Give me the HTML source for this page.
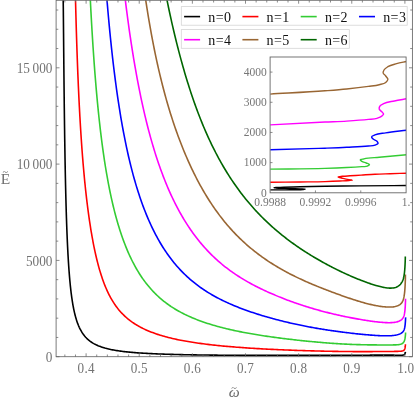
<!DOCTYPE html>
<html lang="en"><head><meta charset="utf-8"><title>E vs omega</title>
<style>
html,body{margin:0;padding:0;background:#fff;}
body{width:415px;height:402px;overflow:hidden;}
svg{display:block;filter:opacity(1);}
text{font-family:"Liberation Serif","DejaVu Serif",serif;}
.tk{font-size:15px;fill:#727272;}
.itk{font-size:13.2px;fill:#767676;}
.lg{font-size:14px;fill:#111;letter-spacing:0.4px;}
.fr{stroke:#666;stroke-width:0.85;fill:none;}
.fi{stroke:#666;stroke-width:0.9;fill:none;}
.t{stroke:#666;stroke-width:0.75;fill:none;}
.c{fill:none;stroke-width:1.6;stroke-linejoin:round;stroke-linecap:butt;}
</style></head><body>
<svg width="415" height="402" viewBox="0 0 415 402">
<rect x="0" y="0" width="415" height="402" fill="#fff"/>
<defs><clipPath id="cm"><rect x="56.10" y="0.30" width="356.30" height="356.40"/></clipPath>
<clipPath id="ci"><rect x="270.10" y="57.00" width="136.00" height="135.80"/></clipPath></defs>
<g clip-path="url(#cm)">
<path class="c" stroke="#000000" d="M62.76 -30.01L63.20 -0.01L63.21 0.88L63.23 1.87L63.24 2.95L63.26 4.13L63.27 5.40L63.29 6.76L63.31 8.21L63.32 9.75L63.34 11.38L63.36 13.09L63.37 14.89L63.39 16.77L63.41 18.72L63.43 20.76L63.45 22.87L63.47 25.05L63.49 27.31L63.51 29.64L63.53 32.03L63.56 34.49L63.58 37.01L63.60 39.60L63.63 42.24L63.65 44.94L63.68 47.70L63.70 50.51L63.73 53.37L63.76 56.27L63.78 59.23L63.81 62.22L63.84 65.26L63.87 68.34L63.90 71.45L63.93 74.60L63.97 77.78L64.00 80.99L64.03 84.23L64.07 87.50L64.10 90.79L64.14 94.10L64.18 97.43L64.22 100.78L64.25 104.14L64.29 107.51L64.34 110.90L64.38 114.30L64.42 117.70L64.47 121.11L64.51 124.52L64.56 127.94L64.61 131.35L64.65 134.76L64.70 138.17L64.76 141.58L64.81 144.97L64.86 148.36L64.92 151.74L64.97 155.10L65.03 158.46L65.09 161.80L65.15 165.12L65.22 168.42L65.28 171.71L65.34 174.98L65.41 178.22L65.48 181.45L65.55 184.65L65.62 187.82L65.70 190.97L65.77 194.10L65.85 197.19L65.93 200.26L66.01 203.30L66.10 206.31L66.18 209.28L66.27 212.23L66.36 215.14L66.45 218.02L66.55 220.87L66.64 223.69L66.74 226.46L66.84 229.21L66.95 231.92L67.05 234.59L67.16 237.23L67.27 239.83L67.39 242.40L67.51 244.92L67.63 247.42L67.75 249.87L67.88 252.29L68.00 254.66L68.14 257.01L68.27 259.31L68.41 261.58L68.55 263.80L68.70 266.00L68.85 268.15L69.00 270.27L69.16 272.35L69.32 274.39L69.48 276.39L69.65 278.36L69.82 280.29L70.00 282.19L70.18 284.04L70.36 285.87L70.55 287.65L70.74 289.40L70.94 291.12L71.14 292.80L71.35 294.44L71.57 296.05L71.78 297.63L72.01 299.17L72.23 300.68L72.47 302.16L72.71 303.60L72.95 305.02L73.20 306.40L73.46 307.75L73.72 309.07L73.99 310.36L74.26 311.61L74.54 312.84L74.83 314.04L75.13 315.22L75.43 316.36L75.74 317.48L76.05 318.56L76.37 319.63L76.70 320.66L77.04 321.67L77.39 322.66L77.74 323.62L78.10 324.55L78.47 325.47L78.85 326.35L79.23 327.22L79.63 328.06L80.03 328.89L80.45 329.68L80.87 330.46L81.30 331.22L81.74 331.96L82.19 332.68L82.66 333.37L83.13 334.05L83.61 334.71L84.10 335.36L84.61 335.98L85.65 337.18L86.73 338.31L87.86 339.38L89.04 340.38L90.28 341.34L91.56 342.23L92.90 343.08L94.29 343.87L95.01 344.25L95.74 344.62L96.49 344.98L97.26 345.33L98.03 345.67L98.83 346.00L99.64 346.31L100.46 346.62L101.30 346.92L102.16 347.21L103.03 347.49L103.92 347.76L104.83 348.03L105.76 348.28L106.70 348.53L107.66 348.77L108.63 349.00L109.63 349.23L110.64 349.45L111.67 349.66L112.72 349.87L113.79 350.06L114.88 350.26L115.98 350.44L117.11 350.62L118.25 350.80L119.42 350.97L120.60 351.13L121.80 351.29L123.02 351.44L124.26 351.59L125.53 351.74L126.81 351.87L128.11 352.01L129.43 352.14L130.77 352.27L132.13 352.39L133.52 352.50L134.92 352.62L136.34 352.73L137.79 352.84L139.25 352.94L140.73 353.04L142.24 353.14L143.76 353.23L145.30 353.32L146.87 353.41L148.45 353.49L150.05 353.57L151.68 353.65L153.32 353.73L154.98 353.80L156.66 353.87L158.36 353.94L160.08 354.01L161.82 354.07L163.57 354.13L165.35 354.19L167.14 354.25L168.95 354.31L170.77 354.36L172.61 354.41L174.47 354.46L176.35 354.51L178.24 354.56L180.15 354.60L182.07 354.65L184.00 354.69L185.95 354.73L187.92 354.77L189.89 354.80L191.88 354.84L193.89 354.87L195.90 354.90L197.92 354.94L199.96 354.97L202.01 354.99L204.06 355.02L206.13 355.05L208.20 355.07L210.28 355.10L212.37 355.12L214.46 355.14L216.56 355.16L218.67 355.18L220.78 355.20L222.89 355.22L225.01 355.23L227.13 355.25L229.26 355.26L231.38 355.28L233.51 355.29L235.64 355.30L237.76 355.31L239.89 355.33L242.01 355.34L244.13 355.34L246.25 355.35L248.37 355.36L250.48 355.37L252.58 355.37L254.68 355.38L256.78 355.39L258.87 355.39L260.95 355.39L263.02 355.40L265.08 355.40L267.14 355.41L269.18 355.41L271.22 355.41L273.24 355.41L275.25 355.41L277.25 355.41L279.24 355.42L281.22 355.42L283.18 355.42L285.13 355.42L287.07 355.41L288.99 355.41L290.89 355.41L292.78 355.41L294.66 355.41L296.51 355.41L298.36 355.41L300.18 355.40L301.99 355.40L303.78 355.40L305.55 355.40L307.30 355.39L309.04 355.39L310.76 355.39L312.46 355.39L314.14 355.38L315.80 355.38L317.44 355.38L319.06 355.37L320.66 355.37L322.24 355.36L323.81 355.36L325.35 355.36L326.87 355.35L328.37 355.35L329.85 355.34L331.32 355.34L332.76 355.33L334.18 355.33L335.58 355.33L336.96 355.32L338.32 355.32L339.66 355.31L340.98 355.31L342.28 355.30L343.56 355.30L344.82 355.29L346.06 355.29L347.29 355.28L348.49 355.28L349.67 355.27L350.83 355.27L351.97 355.26L353.10 355.26L354.20 355.25L355.29 355.25L356.35 355.24L357.40 355.24L358.43 355.23L359.44 355.23L360.44 355.22L361.41 355.22L362.37 355.21L363.31 355.21L364.24 355.20L365.14 355.20L366.03 355.19L366.90 355.19L367.76 355.18L368.60 355.18L369.42 355.18L370.23 355.17L371.80 355.16L373.31 355.16L374.76 355.15L376.15 355.14L377.49 355.14L378.77 355.13L380.00 355.13L381.18 355.12L382.31 355.12L383.40 355.12L384.43 355.12L385.43 355.12L386.38 355.12L387.29 355.12L388.16 355.12L389.00 355.13L389.80 355.13L390.93 355.14L391.99 355.15L392.98 355.16L393.90 355.17L394.76 355.18L395.57 355.19L396.55 355.20L397.45 355.21L398.27 355.22L399.20 355.22L400.01 355.22L400.88 355.21L401.74 355.18L402.56 355.13L403.39 355.00L404.15 354.72L404.75 354.18L405.10 353.46L405.33 352.57L405.45 351.80"/>
<path class="c" stroke="#ff0000" d="M74.62 -34.48L75.40 -4.48L75.59 3.16L75.78 10.60L75.98 17.84L76.18 24.88L76.38 31.74L76.59 38.42L76.80 44.93L77.01 51.28L77.23 57.47L77.45 63.50L77.67 69.39L77.90 75.14L78.14 80.76L78.37 86.24L78.62 91.60L78.86 96.84L79.11 101.97L79.37 106.98L79.63 111.88L79.89 116.67L80.16 121.37L80.43 125.97L80.71 130.48L80.99 134.89L81.28 139.22L81.57 143.46L81.86 147.63L82.17 151.71L82.47 155.72L82.79 159.65L83.10 163.51L83.43 167.30L83.76 171.02L84.09 174.68L84.43 178.28L84.77 181.81L85.13 185.29L85.48 188.71L85.85 192.07L86.22 195.37L86.59 198.63L86.97 201.83L87.36 204.98L87.75 208.08L88.16 211.14L88.56 214.14L88.98 217.11L89.40 220.02L89.83 222.90L90.26 225.73L90.70 228.51L91.15 231.26L91.61 233.96L92.07 236.62L92.54 239.23L93.02 241.80L93.50 244.33L94.00 246.81L94.50 249.24L95.01 251.63L95.53 253.98L96.05 256.28L96.58 258.54L97.13 260.75L97.68 262.92L98.23 265.04L98.80 267.12L99.38 269.16L99.96 271.15L100.55 273.10L101.16 275.01L101.77 276.87L102.39 278.70L103.02 280.48L103.65 282.22L104.30 283.93L104.96 285.59L105.63 287.21L106.30 288.80L106.99 290.35L107.69 291.86L108.39 293.33L109.11 294.77L109.83 296.17L110.57 297.54L111.32 298.87L112.07 300.17L112.84 301.44L113.62 302.67L114.41 303.87L115.21 305.04L116.02 306.18L116.84 307.29L117.67 308.37L118.51 309.43L119.36 310.45L120.23 311.45L121.10 312.42L121.99 313.37L122.89 314.29L123.80 315.19L124.72 316.07L125.65 316.93L126.59 317.76L127.54 318.57L128.51 319.36L129.49 320.13L130.48 320.89L131.48 321.62L132.49 322.34L133.51 323.03L134.55 323.72L135.59 324.38L136.65 325.03L137.72 325.66L138.80 326.28L139.90 326.88L141.00 327.47L142.12 328.04L143.25 328.60L144.39 329.14L145.54 329.68L146.70 330.20L147.87 330.71L149.06 331.20L150.26 331.69L151.47 332.16L152.69 332.62L153.92 333.08L155.16 333.52L156.41 333.95L157.68 334.37L158.95 334.78L160.24 335.18L161.53 335.58L162.84 335.96L164.16 336.34L165.49 336.70L166.83 337.06L168.18 337.41L169.53 337.76L170.90 338.09L172.28 338.42L173.67 338.74L175.07 339.05L176.48 339.36L177.89 339.66L179.32 339.95L180.75 340.23L182.20 340.51L183.65 340.79L185.11 341.05L186.58 341.31L188.06 341.57L189.54 341.82L191.03 342.06L192.53 342.30L194.04 342.53L195.55 342.76L197.07 342.98L198.60 343.20L200.13 343.41L201.67 343.62L203.21 343.82L204.77 344.02L206.32 344.22L207.88 344.41L209.45 344.59L211.02 344.77L212.59 344.95L214.17 345.12L215.75 345.29L217.34 345.46L218.93 345.62L220.52 345.78L222.11 345.93L223.71 346.08L225.31 346.23L226.91 346.38L228.51 346.52L230.12 346.66L231.72 346.79L233.33 346.92L234.93 347.05L236.54 347.18L238.14 347.30L239.75 347.42L241.35 347.54L242.96 347.66L244.56 347.77L246.16 347.88L247.76 347.99L249.36 348.09L250.95 348.19L252.54 348.29L254.13 348.39L255.72 348.49L257.30 348.58L258.88 348.67L260.45 348.76L262.02 348.85L263.59 348.94L265.15 349.02L266.71 349.10L268.26 349.18L269.80 349.26L271.34 349.33L272.87 349.41L274.40 349.48L275.92 349.55L277.44 349.62L278.94 349.69L280.44 349.75L281.93 349.82L283.42 349.88L284.89 349.94L286.36 350.00L287.82 350.06L289.28 350.12L290.72 350.17L292.15 350.22L293.58 350.28L295.00 350.33L296.41 350.38L297.80 350.43L299.19 350.47L300.57 350.52L301.94 350.56L303.30 350.61L304.65 350.65L305.99 350.69L307.32 350.73L308.64 350.77L309.94 350.81L311.24 350.84L312.53 350.88L313.80 350.91L315.07 350.95L316.32 350.98L317.56 351.01L318.79 351.04L320.01 351.07L321.22 351.10L322.42 351.13L323.61 351.16L324.78 351.18L325.94 351.21L327.09 351.23L328.23 351.25L329.36 351.27L330.48 351.30L331.58 351.32L332.68 351.34L333.76 351.36L334.83 351.37L335.89 351.39L336.94 351.41L337.97 351.42L338.99 351.44L340.01 351.45L341.01 351.46L342.00 351.48L342.97 351.49L343.94 351.50L344.89 351.51L345.84 351.52L346.77 351.53L347.69 351.54L348.60 351.55L349.50 351.55L350.38 351.56L351.26 351.57L352.12 351.57L352.98 351.58L353.82 351.58L354.65 351.59L355.47 351.59L356.28 351.59L357.08 351.60L358.65 351.60L360.17 351.61L361.65 351.61L363.10 351.61L364.50 351.61L365.86 351.61L367.19 351.60L368.47 351.60L369.72 351.59L370.94 351.59L372.12 351.58L373.26 351.57L374.37 351.57L375.44 351.56L376.48 351.55L377.50 351.54L378.47 351.54L379.42 351.53L380.34 351.52L381.23 351.51L382.10 351.51L382.93 351.50L383.74 351.50L384.90 351.49L386.01 351.48L387.07 351.47L388.07 351.47L389.02 351.46L389.93 351.46L390.79 351.45L391.61 351.45L392.64 351.44L393.59 351.43L394.49 351.42L395.32 351.41L396.29 351.39L397.17 351.38L397.97 351.35L398.85 351.32L399.76 351.27L400.56 351.21L401.36 351.12L402.21 350.98L403.04 350.75L403.76 350.38L404.32 349.80L404.70 349.07L404.96 348.24L405.13 347.38L405.26 346.46L405.36 345.52L405.43 344.63L405.45 344.20"/>
<path class="c" stroke="#33cc33" d="M88.71 -30.68L90.30 -0.68L90.63 5.79L90.97 12.14L91.31 18.36L91.66 24.46L92.01 30.45L92.37 36.33L92.73 42.09L93.10 47.75L93.48 53.29L93.86 58.74L94.24 64.08L94.63 69.32L95.03 74.47L95.44 79.52L95.85 84.48L96.26 89.34L96.69 94.12L97.12 98.81L97.55 103.41L97.99 107.93L98.44 112.37L98.90 116.72L99.36 121.00L99.83 125.20L100.30 129.33L100.79 133.38L101.28 137.36L101.77 141.27L102.28 145.10L102.79 148.87L103.31 152.58L103.83 156.21L104.36 159.79L104.91 163.30L105.45 166.75L106.01 170.13L106.57 173.46L107.15 176.73L107.73 179.95L108.31 183.10L108.91 186.21L109.51 189.26L110.12 192.25L110.74 195.20L111.37 198.09L112.01 200.93L112.66 203.73L113.31 206.48L113.97 209.18L114.65 211.83L115.33 214.44L116.01 217.00L116.71 219.52L117.42 222.00L118.14 224.44L118.86 226.83L119.60 229.18L120.34 231.50L121.09 233.77L121.85 236.01L122.63 238.20L123.41 240.37L124.20 242.49L125.00 244.58L125.81 246.63L126.63 248.64L127.45 250.62L128.29 252.56L129.14 254.47L130.00 256.34L130.87 258.18L131.74 259.98L132.63 261.75L133.53 263.49L134.44 265.19L135.35 266.86L136.28 268.50L137.22 270.11L138.17 271.69L139.12 273.23L140.09 274.75L141.07 276.24L142.05 277.69L143.05 279.12L144.06 280.52L145.08 281.89L146.10 283.23L147.14 284.54L148.19 285.83L149.25 287.09L150.31 288.33L151.39 289.54L152.48 290.72L153.57 291.88L154.68 293.02L155.80 294.13L156.92 295.21L158.06 296.28L159.21 297.32L160.36 298.34L161.53 299.33L162.70 300.31L163.88 301.26L165.07 302.19L166.28 303.11L167.49 304.00L168.71 304.87L169.94 305.72L171.17 306.56L172.42 307.37L173.68 308.17L174.94 308.95L176.21 309.71L177.49 310.46L178.78 311.19L180.08 311.90L181.38 312.60L182.69 313.29L184.01 313.96L185.34 314.61L186.68 315.25L188.02 315.88L189.37 316.49L190.73 317.09L192.09 317.68L193.46 318.26L194.84 318.82L196.22 319.37L197.61 319.91L199.00 320.44L200.40 320.96L201.81 321.47L203.22 321.97L204.64 322.45L206.06 322.93L207.49 323.40L208.92 323.86L210.35 324.30L211.79 324.74L213.24 325.17L214.69 325.59L216.14 326.01L217.59 326.41L219.05 326.81L220.51 327.20L221.97 327.58L223.44 327.95L224.91 328.32L226.38 328.68L227.85 329.03L229.33 329.37L230.80 329.71L232.28 330.04L233.76 330.37L235.23 330.68L236.71 331.00L238.19 331.30L239.67 331.60L241.15 331.90L242.63 332.19L244.11 332.47L245.58 332.75L247.06 333.02L248.53 333.29L250.01 333.55L251.48 333.81L252.95 334.06L254.41 334.31L255.88 334.56L257.34 334.80L258.80 335.03L260.26 335.26L261.71 335.49L263.16 335.71L264.60 335.93L266.04 336.14L267.48 336.35L268.91 336.56L270.34 336.76L271.76 336.96L273.18 337.16L274.60 337.35L276.00 337.54L277.41 337.73L278.80 337.91L280.19 338.09L281.58 338.27L282.96 338.44L284.33 338.61L285.69 338.78L287.05 338.95L288.40 339.11L289.75 339.27L291.09 339.42L292.42 339.58L293.74 339.73L295.05 339.88L296.36 340.02L297.66 340.17L298.95 340.31L300.23 340.44L301.51 340.58L302.77 340.71L304.03 340.84L305.28 340.97L306.52 341.09L307.75 341.22L308.97 341.34L310.19 341.45L311.39 341.57L312.59 341.68L313.77 341.79L314.95 341.90L316.12 342.01L317.28 342.11L318.42 342.21L319.56 342.31L320.69 342.41L321.81 342.50L322.92 342.59L324.02 342.68L325.11 342.77L326.19 342.86L327.26 342.94L328.32 343.02L329.37 343.10L330.41 343.18L331.44 343.25L332.46 343.33L333.47 343.40L334.47 343.47L335.46 343.53L336.44 343.60L337.41 343.66L338.37 343.72L339.32 343.78L340.26 343.83L341.19 343.89L342.11 343.94L343.02 343.99L343.92 344.04L344.81 344.08L345.70 344.13L346.57 344.17L347.43 344.21L348.28 344.25L349.12 344.29L349.95 344.33L350.77 344.36L351.59 344.39L352.39 344.43L353.96 344.49L355.50 344.54L357.01 344.59L358.47 344.63L359.90 344.67L361.29 344.71L362.65 344.74L363.97 344.77L365.26 344.79L366.51 344.82L367.73 344.84L368.92 344.85L370.08 344.87L371.20 344.88L372.30 344.89L373.36 344.90L374.39 344.91L375.40 344.92L376.37 344.92L377.32 344.93L378.24 344.93L379.14 344.94L380.01 344.94L380.85 344.95L381.67 344.95L382.85 344.96L383.98 344.97L385.06 344.97L386.09 344.97L387.07 344.98L388.01 344.98L388.91 344.98L389.76 344.97L390.57 344.97L391.60 344.96L392.56 344.94L393.47 344.92L394.31 344.90L395.11 344.87L396.03 344.83L396.87 344.77L397.80 344.69L398.64 344.60L399.52 344.46L400.40 344.27L401.17 344.03L401.92 343.71L402.63 343.28L403.23 342.75L403.73 342.11L404.15 341.36L404.48 340.56L404.72 339.73L404.91 338.92L405.08 338.00L405.21 337.13L405.30 336.33L405.39 335.45L405.48 334.50L405.54 333.68L405.55 332.50"/>
<path class="c" stroke="#0000ff" d="M104.40 -29.73L107.00 0.27L107.48 5.92L107.96 11.47L108.45 16.95L108.94 22.34L109.44 27.64L109.95 32.87L110.46 38.01L110.99 43.07L111.51 48.06L112.05 52.97L112.59 57.80L113.14 62.56L113.70 67.24L114.26 71.85L114.84 76.39L115.41 80.85L116.00 85.25L116.59 89.58L117.19 93.83L117.80 98.03L118.42 102.15L119.04 106.21L119.68 110.21L120.31 114.14L120.96 118.01L121.62 121.82L122.28 125.57L122.95 129.26L123.63 132.89L124.32 136.46L125.01 139.97L125.72 143.43L126.43 146.83L127.15 150.18L127.88 153.47L128.61 156.71L129.36 159.90L130.11 163.04L130.88 166.13L131.65 169.16L132.43 172.15L133.21 175.09L134.01 177.98L134.82 180.83L135.63 183.63L136.45 186.38L137.28 189.09L138.12 191.75L138.97 194.37L139.83 196.95L140.70 199.49L141.57 201.98L142.46 204.43L143.35 206.85L144.25 209.22L145.16 211.56L146.08 213.85L147.01 216.11L147.95 218.33L148.89 220.52L149.85 222.67L150.81 224.78L151.78 226.86L152.77 228.90L153.76 230.90L154.76 232.88L155.76 234.81L156.78 236.72L157.81 238.59L158.84 240.43L159.88 242.23L160.93 244.00L161.99 245.75L163.06 247.46L164.14 249.14L165.22 250.78L166.32 252.40L167.42 253.99L168.53 255.55L169.64 257.08L170.77 258.58L171.90 260.06L173.05 261.50L174.20 262.92L175.35 264.31L176.52 265.68L177.69 267.02L178.87 268.33L180.06 269.62L181.26 270.88L182.46 272.12L183.67 273.34L184.89 274.53L186.11 275.69L187.34 276.84L188.58 277.96L189.82 279.06L191.07 280.13L192.33 281.19L193.59 282.22L194.86 283.23L196.13 284.23L197.41 285.20L198.70 286.15L199.99 287.08L201.29 288.00L202.59 288.89L203.90 289.77L205.21 290.64L206.53 291.48L207.85 292.31L209.18 293.12L210.51 293.92L211.84 294.70L213.18 295.47L214.52 296.22L215.87 296.96L217.22 297.68L218.57 298.39L219.92 299.09L221.28 299.78L222.64 300.45L224.01 301.11L225.37 301.76L226.74 302.40L228.11 303.02L229.48 303.64L230.86 304.24L232.23 304.83L233.61 305.42L234.99 305.99L236.36 306.55L237.74 307.10L239.12 307.65L240.50 308.18L241.88 308.71L243.26 309.22L244.64 309.73L246.02 310.23L247.40 310.72L248.77 311.21L250.15 311.68L251.52 312.15L252.90 312.61L254.27 313.06L255.64 313.51L257.01 313.95L258.37 314.38L259.73 314.81L261.10 315.22L262.45 315.64L263.81 316.04L265.16 316.44L266.51 316.83L267.85 317.22L269.20 317.60L270.53 317.98L271.87 318.35L273.20 318.71L274.52 319.07L275.84 319.42L277.16 319.76L278.47 320.10L279.78 320.44L281.08 320.77L282.37 321.09L283.66 321.41L284.95 321.72L286.23 322.03L287.50 322.33L288.77 322.63L290.03 322.92L291.29 323.20L292.54 323.49L293.78 323.76L295.02 324.03L296.24 324.30L297.47 324.56L298.68 324.82L299.89 325.07L301.09 325.32L302.29 325.57L303.47 325.81L304.65 326.04L305.82 326.27L306.99 326.50L308.14 326.72L309.29 326.94L310.43 327.15L311.57 327.36L312.69 327.57L313.81 327.77L314.91 327.96L316.01 328.16L317.11 328.34L318.19 328.53L319.27 328.71L320.33 328.89L321.39 329.06L322.44 329.23L323.48 329.40L324.51 329.56L325.54 329.72L326.55 329.88L327.56 330.04L328.55 330.19L329.54 330.33L330.52 330.48L331.49 330.62L332.46 330.76L333.41 330.90L334.35 331.03L335.29 331.16L336.22 331.29L337.14 331.41L338.04 331.54L338.94 331.66L339.84 331.78L340.72 331.89L341.59 332.00L342.46 332.11L343.31 332.22L344.16 332.33L345.00 332.43L345.83 332.54L346.65 332.64L347.46 332.73L348.27 332.83L349.85 333.01L351.39 333.19L352.91 333.36L354.39 333.53L355.83 333.68L357.25 333.83L358.63 333.97L359.97 334.11L361.29 334.24L362.57 334.37L363.82 334.49L365.05 334.60L366.24 334.71L367.40 334.81L368.53 334.91L369.64 335.00L370.71 335.08L371.76 335.17L372.78 335.24L373.78 335.31L374.74 335.38L375.69 335.44L376.60 335.50L377.49 335.55L378.36 335.60L379.21 335.64L380.03 335.68L381.21 335.73L382.35 335.76L383.44 335.79L384.49 335.81L385.49 335.82L386.45 335.82L387.37 335.82L388.24 335.80L389.08 335.77L389.88 335.74L390.90 335.69L391.85 335.62L392.75 335.53L393.60 335.44L394.58 335.31L395.50 335.16L396.34 334.99L397.27 334.78L398.11 334.54L398.88 334.29L399.69 333.98L400.51 333.61L401.23 333.21L401.94 332.73L402.55 332.20L403.13 331.54L403.57 330.86L403.96 330.08L404.26 329.29L404.49 328.50L404.70 327.63L404.85 326.79L405.00 325.86L405.11 325.01L405.21 324.09L405.28 323.28L405.35 322.42L405.42 321.50L405.48 320.50L405.53 319.44L405.57 318.58L405.58 317.69L405.55 317.40"/>
<path class="c" stroke="#ff00ff" d="M121.58 -29.28L125.40 0.72L126.00 5.53L126.61 10.29L127.22 15.00L127.84 19.65L128.47 24.24L129.10 28.78L129.74 33.27L130.39 37.70L131.05 42.07L131.71 46.39L132.38 50.66L133.06 54.88L133.74 59.04L134.43 63.15L135.13 67.20L135.84 71.21L136.55 75.16L137.27 79.06L138.00 82.91L138.73 86.71L139.48 90.45L140.23 94.15L140.99 97.80L141.75 101.40L142.52 104.95L143.30 108.45L144.09 111.90L144.89 115.31L145.69 118.67L146.50 121.98L147.32 125.25L148.14 128.47L148.98 131.64L149.82 134.77L150.67 137.85L151.52 140.89L152.39 143.89L153.26 146.84L154.14 149.75L155.02 152.62L155.92 155.45L156.82 158.23L157.73 160.97L158.65 163.68L159.57 166.34L160.50 168.96L161.44 171.55L162.39 174.09L163.34 176.60L164.30 179.06L165.27 181.50L166.25 183.89L167.23 186.25L168.22 188.57L169.22 190.85L170.22 193.10L171.24 195.32L172.26 197.50L173.28 199.64L174.31 201.76L175.35 203.84L176.40 205.88L177.45 207.90L178.52 209.88L179.58 211.83L180.66 213.75L181.74 215.64L182.82 217.50L183.91 219.33L185.01 221.12L186.12 222.89L187.23 224.63L188.35 226.34L189.47 228.03L190.60 229.68L191.73 231.31L192.88 232.91L194.02 234.48L195.17 236.03L196.33 237.55L197.49 239.04L198.66 240.51L199.83 241.95L201.01 243.37L202.19 244.77L203.38 246.14L204.57 247.48L205.77 248.81L206.97 250.10L208.17 251.38L209.38 252.63L210.59 253.87L211.81 255.08L213.03 256.26L214.25 257.43L215.48 258.57L216.71 259.70L217.95 260.80L219.18 261.89L220.42 262.95L221.66 263.99L222.91 265.02L224.16 266.02L225.41 267.01L226.66 267.98L227.91 268.93L229.17 269.87L230.43 270.78L231.69 271.69L232.95 272.57L234.21 273.44L235.48 274.30L236.74 275.14L238.00 275.96L239.27 276.77L240.54 277.57L241.80 278.35L243.07 279.12L244.34 279.88L245.61 280.63L246.87 281.36L248.14 282.08L249.41 282.79L250.67 283.49L251.94 284.17L253.20 284.85L254.46 285.51L255.72 286.17L256.98 286.81L258.24 287.44L259.50 288.07L260.75 288.68L262.00 289.29L263.25 289.88L264.50 290.47L265.75 291.05L266.99 291.62L268.23 292.18L269.47 292.73L270.70 293.27L271.93 293.81L273.16 294.34L274.38 294.86L275.60 295.38L276.82 295.88L278.03 296.38L279.24 296.88L280.45 297.36L281.65 297.84L282.84 298.31L284.03 298.78L285.22 299.23L286.40 299.68L287.58 300.13L288.75 300.56L289.92 300.99L291.08 301.42L292.24 301.84L293.39 302.25L294.54 302.65L295.68 303.05L296.81 303.44L297.94 303.83L299.07 304.21L300.18 304.58L301.30 304.95L302.40 305.31L303.50 305.67L304.59 306.02L305.68 306.37L306.76 306.71L307.83 307.04L308.90 307.37L309.96 307.69L311.02 308.01L312.06 308.32L313.10 308.63L314.14 308.93L315.16 309.23L316.18 309.52L317.19 309.81L318.20 310.09L319.20 310.36L320.19 310.64L321.17 310.90L322.15 311.16L323.12 311.42L324.08 311.67L325.03 311.92L325.98 312.16L326.92 312.40L327.85 312.64L328.77 312.87L329.69 313.10L330.60 313.32L331.50 313.54L332.40 313.75L333.28 313.96L334.16 314.17L335.03 314.37L335.90 314.57L336.75 314.77L337.60 314.96L338.44 315.15L339.28 315.33L340.10 315.51L340.92 315.69L341.73 315.87L342.54 316.04L343.33 316.21L344.12 316.37L345.67 316.70L347.20 317.01L348.69 317.31L350.16 317.59L351.59 317.87L353.00 318.14L354.37 318.40L355.72 318.64L357.04 318.88L358.33 319.11L359.59 319.33L360.82 319.54L362.03 319.74L363.21 319.94L364.36 320.13L365.49 320.30L366.59 320.48L367.67 320.64L368.72 320.80L369.74 320.94L370.74 321.09L371.72 321.22L372.67 321.35L373.60 321.47L374.51 321.59L375.39 321.70L376.26 321.80L377.10 321.90L377.92 321.99L379.11 322.11L380.25 322.22L381.35 322.32L382.41 322.41L383.43 322.48L384.40 322.54L385.34 322.59L386.24 322.63L387.11 322.66L387.94 322.68L388.99 322.69L389.99 322.68L390.93 322.65L391.82 322.61L392.66 322.55L393.46 322.48L394.39 322.36L395.26 322.23L396.06 322.07L396.96 321.86L397.77 321.63L398.64 321.32L399.42 320.98L400.22 320.56L400.93 320.12L401.63 319.58L402.24 318.99L402.77 318.33L403.24 317.58L403.60 316.81L403.89 316.05L404.14 315.20L404.34 314.38L404.52 313.46L404.65 312.63L404.78 311.71L404.88 310.91L404.97 310.06L405.05 309.14L405.13 308.15L405.20 307.09L405.26 306.24L405.31 305.34L405.35 304.39L405.40 303.39L405.44 302.33L405.49 301.20L405.50 299.81L405.50 298.80"/>
<path class="c" stroke="#996633" d="M140.83 -31.36L145.50 -1.36L146.21 3.30L146.92 7.89L147.64 12.40L148.37 16.83L149.10 21.18L149.84 25.47L150.59 29.69L151.34 33.83L152.10 37.91L152.86 41.93L153.64 45.88L154.41 49.77L155.20 53.59L155.99 57.36L156.79 61.07L157.60 64.72L158.41 68.32L159.23 71.86L160.05 75.34L160.88 78.78L161.72 82.16L162.56 85.49L163.41 88.77L164.27 92.01L165.14 95.20L166.01 98.34L166.88 101.44L167.76 104.49L168.65 107.50L169.55 110.47L170.45 113.39L171.36 116.28L172.27 119.12L173.19 121.93L174.12 124.70L175.05 127.43L175.99 130.12L176.94 132.78L177.89 135.41L178.85 138.00L179.81 140.55L180.78 143.07L181.75 145.56L182.73 148.02L183.72 150.45L184.71 152.85L185.71 155.21L186.71 157.55L187.72 159.86L188.73 162.13L189.75 164.38L190.78 166.60L191.81 168.79L192.84 170.94L193.88 173.08L194.93 175.18L195.98 177.25L197.03 179.30L198.09 181.31L199.16 183.30L200.22 185.26L201.30 187.20L202.38 189.10L203.46 190.98L204.54 192.84L205.63 194.67L206.73 196.47L207.83 198.24L208.93 199.99L210.04 201.71L211.15 203.41L212.26 205.08L213.38 206.73L214.50 208.36L215.62 209.96L216.75 211.53L217.88 213.08L219.01 214.61L220.14 216.11L221.28 217.59L222.42 219.05L223.57 220.49L224.71 221.90L225.86 223.29L227.01 224.66L228.16 226.00L229.31 227.33L230.47 228.63L231.63 229.91L232.79 231.18L233.95 232.42L235.11 233.64L236.27 234.84L237.44 236.02L238.60 237.18L239.77 238.32L240.93 239.44L242.10 240.54L243.27 241.63L244.44 242.70L245.60 243.75L246.77 244.78L247.94 245.80L249.11 246.80L250.28 247.79L251.44 248.75L252.61 249.71L253.78 250.64L254.94 251.57L256.11 252.47L257.27 253.37L258.43 254.24L259.59 255.11L260.75 255.96L261.91 256.80L263.07 257.62L264.22 258.43L265.37 259.23L266.53 260.01L267.67 260.79L268.82 261.55L269.96 262.30L271.11 263.03L272.25 263.76L273.38 264.47L274.52 265.17L275.65 265.86L276.77 266.54L277.90 267.21L279.02 267.87L280.14 268.52L281.25 269.16L282.36 269.79L283.47 270.41L284.57 271.01L285.67 271.61L286.77 272.20L287.86 272.78L288.95 273.36L290.03 273.92L291.11 274.47L292.19 275.02L293.26 275.56L294.32 276.09L295.38 276.61L296.44 277.12L297.49 277.63L298.54 278.13L299.58 278.62L300.61 279.10L301.65 279.58L302.67 280.05L303.69 280.51L304.71 280.97L305.72 281.42L306.72 281.87L307.72 282.30L308.72 282.74L309.70 283.16L310.69 283.58L311.66 284.00L312.63 284.41L313.60 284.81L314.56 285.21L315.51 285.60L316.46 285.99L317.40 286.37L318.33 286.75L319.26 287.12L320.19 287.49L321.10 287.85L322.01 288.21L322.92 288.57L323.81 288.92L324.71 289.26L325.59 289.60L326.47 289.94L327.34 290.28L328.21 290.61L329.07 290.93L329.92 291.25L330.77 291.57L331.61 291.89L332.44 292.20L333.27 292.51L334.09 292.81L334.90 293.11L335.71 293.41L336.51 293.70L337.30 293.99L338.09 294.28L338.87 294.56L339.65 294.84L340.41 295.12L341.18 295.39L342.68 295.92L344.16 296.44L345.61 296.95L347.03 297.44L348.43 297.92L349.80 298.38L351.15 298.83L352.47 299.27L353.77 299.69L355.04 300.10L356.29 300.50L357.51 300.88L358.70 301.25L359.88 301.60L361.02 301.94L362.15 302.27L363.25 302.58L364.33 302.88L365.38 303.16L366.42 303.43L367.43 303.69L368.41 303.94L369.38 304.18L370.32 304.40L371.25 304.61L372.15 304.82L373.03 305.01L373.90 305.19L374.74 305.36L375.56 305.52L376.36 305.67L377.15 305.81L378.29 306.01L379.39 306.19L380.46 306.35L381.48 306.49L382.47 306.62L383.42 306.72L384.33 306.82L385.22 306.89L386.06 306.96L386.88 307.01L387.92 307.05L388.91 307.07L389.85 307.07L390.74 307.05L391.59 307.01L392.39 306.95L393.33 306.84L394.22 306.71L395.04 306.55L395.96 306.33L396.81 306.07L397.59 305.78L398.42 305.41L399.17 305.01L399.86 304.57L400.56 304.02L401.19 303.41L401.75 302.72L402.26 301.96L402.65 301.21L403.01 300.37L403.29 299.59L403.54 298.73L403.74 297.95L403.92 297.11L404.09 296.21L404.25 295.23L404.37 294.40L404.48 293.51L404.59 292.57L404.69 291.57L404.78 290.51L404.85 289.68L404.92 288.80L404.98 287.88L405.04 286.92L405.09 285.92L405.15 284.87L405.20 283.77L405.25 282.62L405.28 281.82L405.31 281.00L405.34 280.15L405.37 279.28L405.40 278.38L405.40 276.39L405.40 274.40"/>
<path class="c" stroke="#006600" d="M160.73 -29.91L167.00 0.09L167.79 3.93L168.58 7.73L169.38 11.49L170.19 15.21L171.00 18.90L171.81 22.55L172.63 26.15L173.46 29.72L174.29 33.26L175.13 36.75L175.98 40.21L176.83 43.62L177.68 47.00L178.54 50.34L179.40 53.65L180.27 56.91L181.15 60.14L182.03 63.33L182.92 66.48L183.81 69.59L184.70 72.67L185.60 75.71L186.51 78.72L187.42 81.68L188.34 84.61L189.26 87.51L190.18 90.37L191.11 93.19L192.05 95.98L192.99 98.73L193.93 101.44L194.88 104.12L195.83 106.77L196.79 109.38L197.75 111.96L198.72 114.50L199.69 117.01L200.66 119.48L201.64 121.92L202.63 124.33L203.61 126.71L204.60 129.05L205.60 131.36L206.60 133.64L207.60 135.88L208.60 138.10L209.61 140.28L210.63 142.43L211.64 144.55L212.66 146.64L213.68 148.70L214.71 150.73L215.74 152.74L216.77 154.71L217.81 156.66L218.84 158.57L219.88 160.47L220.93 162.33L221.97 164.17L223.02 165.98L224.07 167.76L225.12 169.53L226.18 171.26L227.24 172.97L228.30 174.66L229.36 176.32L230.42 177.96L231.48 179.58L232.55 181.18L233.62 182.75L234.69 184.30L235.76 185.82L236.83 187.33L237.90 188.82L238.98 190.28L240.05 191.72L241.13 193.15L242.20 194.55L243.28 195.94L244.36 197.30L245.44 198.65L246.52 199.97L247.59 201.28L248.67 202.57L249.75 203.84L250.83 205.09L251.91 206.33L252.99 207.55L254.06 208.75L255.14 209.94L256.22 211.10L257.30 212.25L258.37 213.39L259.45 214.51L260.52 215.61L261.59 216.70L262.66 217.78L263.73 218.83L264.80 219.88L265.87 220.91L266.93 221.92L268.00 222.93L269.06 223.91L270.12 224.89L271.18 225.85L272.24 226.79L273.29 227.73L274.34 228.65L275.39 229.56L276.44 230.46L277.48 231.34L278.53 232.21L279.57 233.08L280.60 233.93L281.64 234.76L282.67 235.59L283.70 236.40L284.72 237.21L285.74 238.00L286.76 238.79L287.78 239.56L288.79 240.32L289.80 241.07L290.80 241.82L291.80 242.55L292.80 243.27L293.79 243.98L294.78 244.69L295.77 245.38L296.75 246.07L297.73 246.74L298.70 247.41L299.67 248.07L300.63 248.72L301.60 249.36L302.55 249.99L303.50 250.61L304.45 251.23L305.39 251.84L306.33 252.44L307.26 253.03L308.19 253.62L309.12 254.19L310.04 254.76L310.95 255.32L311.86 255.88L312.76 256.43L313.66 256.97L314.56 257.50L315.45 258.02L316.33 258.54L317.21 259.05L318.08 259.56L318.95 260.06L319.82 260.55L320.67 261.04L321.53 261.52L322.37 261.99L323.21 262.45L324.05 262.91L324.88 263.37L325.71 263.82L326.53 264.26L327.34 264.70L328.15 265.13L328.95 265.55L329.75 265.97L330.54 266.38L331.33 266.79L332.11 267.19L332.89 267.59L333.66 267.98L334.42 268.37L335.18 268.75L335.93 269.12L336.68 269.49L337.42 269.86L338.15 270.22L338.88 270.57L339.61 270.92L340.33 271.27L341.75 271.94L343.14 272.60L344.52 273.24L345.87 273.86L347.20 274.46L348.50 275.05L349.79 275.62L351.05 276.17L352.29 276.71L353.51 277.23L354.70 277.73L355.88 278.22L357.03 278.69L358.16 279.15L359.27 279.60L360.35 280.03L361.42 280.45L362.47 280.85L363.49 281.24L364.50 281.62L365.48 281.98L366.45 282.33L367.40 282.67L368.32 283.00L369.23 283.31L370.12 283.62L370.99 283.91L371.84 284.19L372.68 284.46L373.49 284.72L374.29 284.97L375.07 285.20L375.84 285.43L376.95 285.75L378.03 286.05L379.07 286.32L380.08 286.58L381.06 286.81L382.00 287.02L382.91 287.21L383.78 287.39L384.63 287.54L385.45 287.67L386.50 287.83L387.49 287.94L388.44 288.03L389.35 288.09L390.21 288.12L391.03 288.11L392.00 288.07L392.91 287.99L393.77 287.86L394.57 287.70L395.47 287.45L396.30 287.16L397.07 286.82L397.79 286.43L398.55 285.94L399.25 285.39L399.89 284.80L400.47 284.18L401.00 283.52L401.48 282.83L401.92 282.12L402.33 281.38L402.69 280.59L403.02 279.73L403.28 278.94L403.53 278.09L403.75 277.16L403.92 276.32L404.08 275.42L404.23 274.45L404.34 273.62L404.45 272.73L404.55 271.78L404.65 270.78L404.72 269.98L404.78 269.14L404.85 268.26L404.91 267.34L404.97 266.37L405.02 265.35L405.08 264.29L405.13 263.17L405.18 261.99L405.21 261.17L405.24 260.33L405.27 259.45L405.30 258.55L405.30 257.53L405.30 256.50"/>
</g>
<rect class="fr" x="56.10" y="0.30" width="356.30" height="356.40"/>
<path class="t" d="M64.85 356.70v-2.20M64.85 0.30v2.20M75.47 356.70v-2.20M75.47 0.30v2.20M86.10 356.70v-3.40M86.10 0.30v3.40M96.73 356.70v-2.20M96.73 0.30v2.20M107.35 356.70v-2.20M107.35 0.30v2.20M117.98 356.70v-2.20M117.98 0.30v2.20M128.61 356.70v-2.20M128.61 0.30v2.20M139.23 356.70v-3.40M139.23 0.30v3.40M149.86 356.70v-2.20M149.86 0.30v2.20M160.49 356.70v-2.20M160.49 0.30v2.20M171.11 356.70v-2.20M171.11 0.30v2.20M181.74 356.70v-2.20M181.74 0.30v2.20M192.37 356.70v-3.40M192.37 0.30v3.40M202.99 356.70v-2.20M202.99 0.30v2.20M213.62 356.70v-2.20M213.62 0.30v2.20M224.25 356.70v-2.20M224.25 0.30v2.20M234.87 356.70v-2.20M234.87 0.30v2.20M245.50 356.70v-3.40M245.50 0.30v3.40M256.13 356.70v-2.20M256.13 0.30v2.20M266.75 356.70v-2.20M266.75 0.30v2.20M277.38 356.70v-2.20M277.38 0.30v2.20M288.01 356.70v-2.20M288.01 0.30v2.20M298.63 356.70v-3.40M298.63 0.30v3.40M309.26 356.70v-2.20M309.26 0.30v2.20M319.89 356.70v-2.20M319.89 0.30v2.20M330.51 356.70v-2.20M330.51 0.30v2.20M341.14 356.70v-2.20M341.14 0.30v2.20M351.77 356.70v-3.40M351.77 0.30v3.40M362.39 356.70v-2.20M362.39 0.30v2.20M373.02 356.70v-2.20M373.02 0.30v2.20M383.65 356.70v-2.20M383.65 0.30v2.20M394.27 356.70v-2.20M394.27 0.30v2.20M404.90 356.70v-3.40M404.90 0.30v3.40M56.10 356.70h3.40M412.40 356.70h-3.40M56.10 337.44h2.20M412.40 337.44h-2.20M56.10 318.18h2.20M412.40 318.18h-2.20M56.10 298.92h2.20M412.40 298.92h-2.20M56.10 279.66h2.20M412.40 279.66h-2.20M56.10 260.40h3.40M412.40 260.40h-3.40M56.10 241.14h2.20M412.40 241.14h-2.20M56.10 221.88h2.20M412.40 221.88h-2.20M56.10 202.62h2.20M412.40 202.62h-2.20M56.10 183.36h2.20M412.40 183.36h-2.20M56.10 164.10h3.40M412.40 164.10h-3.40M56.10 144.84h2.20M412.40 144.84h-2.20M56.10 125.58h2.20M412.40 125.58h-2.20M56.10 106.32h2.20M412.40 106.32h-2.20M56.10 87.06h2.20M412.40 87.06h-2.20M56.10 67.80h3.40M412.40 67.80h-3.40M56.10 48.54h2.20M412.40 48.54h-2.20M56.10 29.28h2.20M412.40 29.28h-2.20M56.10 10.02h2.20M412.40 10.02h-2.20"/>
<text class="tk" transform="translate(86.20 373.30) scale(0.877 1)" text-anchor="middle" letter-spacing="0.3">0.4</text>
<text class="tk" transform="translate(139.33 373.30) scale(0.877 1)" text-anchor="middle" letter-spacing="0.3">0.5</text>
<text class="tk" transform="translate(192.47 373.30) scale(0.877 1)" text-anchor="middle" letter-spacing="0.3">0.6</text>
<text class="tk" transform="translate(245.60 373.30) scale(0.877 1)" text-anchor="middle" letter-spacing="0.3">0.7</text>
<text class="tk" transform="translate(298.73 373.30) scale(0.877 1)" text-anchor="middle" letter-spacing="0.3">0.8</text>
<text class="tk" transform="translate(351.87 373.30) scale(0.877 1)" text-anchor="middle" letter-spacing="0.3">0.9</text>
<text class="tk" transform="translate(405.80 373.30) scale(0.877 1)" text-anchor="middle" letter-spacing="0.3">1.0</text>
<text class="tk" transform="translate(52.40 361.90) scale(0.882 1)" text-anchor="end">0</text>
<text class="tk" transform="translate(52.40 265.60) scale(0.882 1)" text-anchor="end">5000</text>
<text class="tk" transform="translate(52.40 169.30) scale(0.882 1)" text-anchor="end">10 000</text>
<text class="tk" transform="translate(52.40 73.00) scale(0.882 1)" text-anchor="end">15 000</text>
<text x="5.5" y="184" font-size="15.5" fill="#707070" text-anchor="middle">E</text>
<text transform="translate(5.3 172.9) scale(0.86 0.62)" x="0" y="3.3" font-size="12" fill="#4a4a4a" text-anchor="middle">~</text>
<text x="234.2" y="396.6" font-size="15.5" font-style="italic" fill="#6a6a6a" text-anchor="middle">ω</text>
<text transform="translate(234.0 388.5) scale(0.86 0.62)" x="0" y="3.3" font-size="12" fill="#4a4a4a" text-anchor="middle">~</text>
<rect x="270.10" y="57.00" width="136.00" height="135.80" fill="#fff"/>
<g clip-path="url(#ci)">
<path class="c" style="stroke-width:1.4" stroke="#000000" d="M270.20 189.90C276.80 189.83 283.40 189.79 290.00 189.70C294.33 189.64 298.71 190.07 303.00 189.50C303.67 189.41 304.72 189.28 305.00 189.20C305.70 189.00 301.67 189.07 300.00 189.00C295.00 188.80 290.00 188.61 285.00 188.40C282.00 188.27 278.97 188.43 276.00 188.00C275.40 187.91 274.32 187.78 274.20 187.70C274.01 187.58 276.07 187.56 277.00 187.50C284.65 186.99 292.33 187.00 300.00 186.80C308.33 186.59 316.67 186.44 325.00 186.30C336.67 186.11 348.33 186.02 360.00 185.90C375.50 185.74 391.00 185.63 406.50 185.50"/>
<path class="c" style="stroke-width:1.4" stroke="#ff0000" d="M270.20 182.30C280.13 182.18 290.07 182.08 300.00 181.95C308.33 181.84 316.67 181.85 325.00 181.60C330.00 181.45 335.00 181.25 340.00 181.00C343.00 180.85 346.01 180.77 349.00 180.50C350.13 180.40 352.39 180.30 352.40 180.15C352.41 180.00 350.13 179.80 349.00 179.60C347.02 179.25 345.05 178.85 343.10 178.40C341.90 178.12 340.67 177.90 339.50 177.50C339.06 177.35 338.25 177.14 338.20 177.00C338.13 176.82 339.40 176.71 340.00 176.60C341.02 176.41 342.07 176.35 343.10 176.25C345.39 176.03 347.70 175.95 350.00 175.80C353.70 175.56 357.40 175.34 361.10 175.10C365.73 174.80 370.36 174.43 375.00 174.20C380.00 173.95 385.00 173.86 390.00 173.70C395.50 173.52 401.00 173.37 406.50 173.20"/>
<path class="c" style="stroke-width:1.4" stroke="#33cc33" d="M270.20 169.10C288.47 168.87 306.74 169.01 325.00 168.40C332.23 168.16 339.47 167.88 346.70 167.50C351.77 167.24 356.84 166.96 361.90 166.60C363.70 166.47 365.71 166.93 367.30 166.20C368.08 165.84 369.40 165.16 369.50 164.70C369.64 164.06 367.33 163.51 366.20 163.00C364.81 162.37 363.16 162.23 361.90 161.40C361.33 161.03 360.43 160.46 360.30 160.10C360.06 159.41 362.75 159.17 364.00 158.80C368.86 157.35 374.13 157.79 379.20 157.30C388.30 156.43 397.40 155.63 406.50 154.80"/>
<path class="c" style="stroke-width:1.4" stroke="#0000ff" d="M270.20 149.80C288.47 149.27 306.74 148.89 325.00 148.20C332.23 147.93 339.47 147.67 346.70 147.30C353.94 146.93 361.20 146.78 368.40 146.00C370.57 145.76 372.90 145.98 374.90 145.20C376.02 144.76 378.03 144.29 378.10 143.40C378.15 142.82 377.48 141.89 377.00 141.30C376.10 140.18 374.11 140.15 373.10 139.10C372.50 138.48 371.59 137.52 371.60 136.90C371.62 136.00 373.76 135.45 374.90 134.90C378.15 133.32 382.09 133.50 385.70 132.90C392.59 131.76 399.57 131.10 406.50 130.20"/>
<path class="c" style="stroke-width:1.4" stroke="#ff00ff" d="M270.20 124.90C288.47 123.93 306.73 122.82 325.00 122.00C332.23 121.68 339.47 121.53 346.70 121.10C353.94 120.67 361.19 120.22 368.40 119.40C371.27 119.07 374.28 119.19 377.00 118.30C378.66 117.76 380.50 117.23 381.80 116.10C382.48 115.51 383.58 114.71 383.60 114.00C383.62 113.27 382.42 112.52 381.80 111.80C380.97 110.84 379.41 110.12 379.20 109.00C379.05 108.22 379.34 107.14 379.70 106.40C380.36 105.06 382.22 104.36 383.60 103.60C386.79 101.83 390.78 101.77 394.40 101.00C398.41 100.15 402.47 99.53 406.50 98.80"/>
<path class="c" style="stroke-width:1.4" stroke="#996633" d="M270.20 94.10C288.47 93.00 306.75 92.20 325.00 90.80C332.24 90.25 339.48 89.73 346.70 89.00C353.95 88.27 361.19 87.44 368.40 86.40C372.01 85.88 375.69 85.64 379.20 84.70C381.40 84.11 384.09 83.97 385.70 82.50C386.61 81.67 387.88 80.37 387.90 79.30C387.92 78.21 386.48 77.06 385.70 76.00C384.89 74.89 383.22 74.01 383.10 72.80C383.02 71.94 383.54 70.82 384.00 70.00C384.81 68.57 386.49 67.61 387.90 66.70C390.44 65.07 393.66 64.54 396.60 63.70C399.85 62.77 403.20 62.23 406.50 61.50"/>
</g>
<rect class="fi" x="270.10" y="57.00" width="136.00" height="135.80"/>
<path class="t" d="M315.43 192.80v-2.40M360.77 192.80v-2.40M270.10 162.62h2.40M270.10 132.44h2.40M270.10 102.27h2.40M270.10 72.09h2.40"/>
<text class="itk" transform="translate(270.10 206.40) scale(0.873 1)" text-anchor="middle">0.9988</text>
<text class="itk" transform="translate(315.43 206.40) scale(0.873 1)" text-anchor="middle">0.9992</text>
<text class="itk" transform="translate(360.77 206.40) scale(0.873 1)" text-anchor="middle">0.9996</text>
<text class="itk" transform="translate(406.10 206.40) scale(0.873 1)" text-anchor="middle">1.</text>
<text class="itk" transform="translate(266.80 196.50) scale(0.873 1)" text-anchor="end">0</text>
<text class="itk" transform="translate(266.80 166.32) scale(0.873 1)" text-anchor="end">1000</text>
<text class="itk" transform="translate(266.80 136.14) scale(0.873 1)" text-anchor="end">2000</text>
<text class="itk" transform="translate(266.80 105.97) scale(0.873 1)" text-anchor="end">3000</text>
<text class="itk" transform="translate(266.80 75.79) scale(0.873 1)" text-anchor="end">4000</text>
<rect x="181.30" y="6.60" width="225.90" height="18.60" fill="#fff" stroke="#d4d4d4" stroke-width="0.8"/>
<path d="M184.10 16.60h16.0" stroke="#000000" stroke-width="1.6" fill="none"/>
<text class="lg" x="208.30" y="21.50">n=0</text>
<path d="M242.40 16.60h16.0" stroke="#ff0000" stroke-width="1.6" fill="none"/>
<text class="lg" x="266.60" y="21.50">n=1</text>
<path d="M300.70 16.60h16.0" stroke="#33cc33" stroke-width="1.6" fill="none"/>
<text class="lg" x="324.90" y="21.50">n=2</text>
<path d="M359.00 16.60h16.0" stroke="#0000ff" stroke-width="1.6" fill="none"/>
<text class="lg" x="383.20" y="21.50">n=3</text>
<rect x="181.30" y="29.60" width="168.00" height="18.70" fill="#fff" stroke="#d4d4d4" stroke-width="0.8"/>
<path d="M184.10 39.70h16.0" stroke="#ff00ff" stroke-width="1.6" fill="none"/>
<text class="lg" x="208.30" y="44.60">n=4</text>
<path d="M242.40 39.70h16.0" stroke="#996633" stroke-width="1.6" fill="none"/>
<text class="lg" x="266.60" y="44.60">n=5</text>
<path d="M300.70 39.70h16.0" stroke="#006600" stroke-width="1.6" fill="none"/>
<text class="lg" x="324.90" y="44.60">n=6</text>
</svg></body></html>
